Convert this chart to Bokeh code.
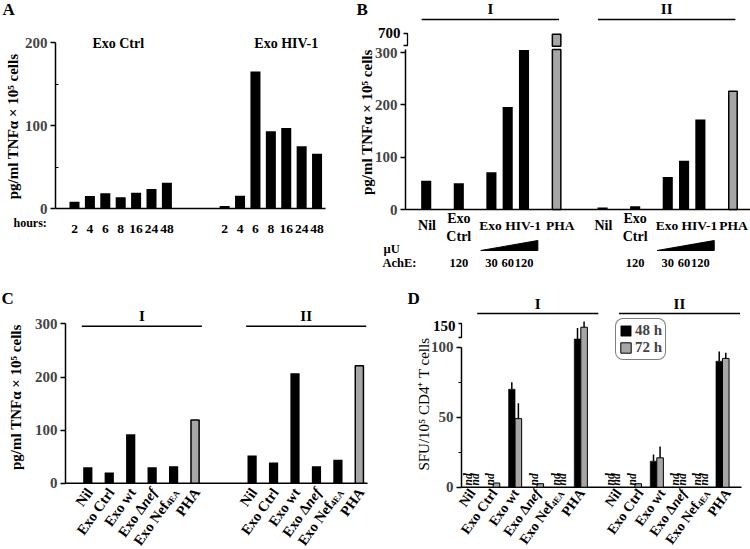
import math
from bokeh.plotting import figure
from bokeh.models import (LinearAxis, FixedTicker, Range1d, Legend, LegendItem)
from bokeh.layouts import column, row
from bokeh.core.properties import value
from bokeh.embed import file_html
from bokeh.resources import INLINE

NAN = float("nan")

# ---------------- data ----------------
# Panel A : TNFa release over time
A_hours = ["2", "4", "6", "8", "16", "24", "48"]
A_exo_ctrl = [8, 15, 18.5, 13.5, 19, 23.5, 31]
A_exo_hiv = [3, 15.5, 165, 93, 97, 75, 66]
A_groups = ["Exo Ctrl", "Exo HIV-1"]
A_yticks = [0, 100, 200]
A_yminor = [50, 150]

# Panel B : dose response (AchE µU)
B_groups = ["I", "II"]
B_conditions = ["Nil", "Exo Ctrl", "Exo HIV-1", "Exo HIV-1", "Exo HIV-1", "PHA"]
B_ache = ["", "120", "30", "60", "120", ""]
B_I = [55, 50, 71, 196, 305, 690]
B_II = [4, 6, 62, 93, 172, 226]
B_yticks = [0, 100, 200, 300]
B_break_tick = 700

# Panel C
C_groups = ["I", "II"]
C_conditions = ["Nil", "Exo Ctrl", "Exo wt", "Exo Δnef", "Exo Nef4EA", "PHA"]
C_I = [30, 20, 92, 30, 32, 119]
C_II = [52, 39, 207, 32, 44, 221]
C_yticks = [0, 100, 200, 300]

# Panel D : SFU / 10^5 CD4+ T cells (nd = not detected)
D_groups = ["I", "II"]
D_conditions = ["Nil", "Exo Ctrl", "Exo wt", "Exo Δnef", "Exo Nef4EA", "PHA"]
D_series = ["48 h", "72 h"]
D_I_48 = [NAN, NAN, 70, NAN, NAN, 119]
D_I_48_err = [0, 0, 5, 0, 0, 25]
D_I_72 = [NAN, 3, 49, 2.5, NAN, 146]
D_I_72_err = [0, 0, 11, 0, 0, 13]
D_II_48 = [NAN, NAN, 18.6, NAN, NAN, 90]
D_II_48_err = [0, 0, 4.8, 0, 0, 7]
D_II_72 = [NAN, 2.5, 21, NAN, NAN, 92]
D_II_72_err = [0, 0, 8, 0, 0, 4]
D_yticks = [0, 50, 100]
D_yminor = [25, 75]
D_break_tick = 150

# ---------------- layout helpers ----------------
FONT = "Liberation Serif"
SX = 1.0
SY = 1.0
GRAY = "#a6a6a6"


class Geo:
    def __init__(self, box, frame, xcal, ycal):
        self.box, self.frame, self.xcal, self.ycal = box, frame, xcal, ycal

    def X(self, rx):
        return (rx - self.xcal[0]) / self.xcal[1]

    def Y(self, ry):
        return (self.ycal[0] - ry) / self.ycal[1]

    def dxp(self, px):
        return px / (self.xcal[1] * SX)

    def dyp(self, px):
        return px / (self.ycal[1] * SY)

    def make(self):
        x0, y0, x1, y1 = self.box
        W = round(x1 * SX) - round(x0 * SX)
        H = round(y1 * SY) - round(y0 * SY)
        p = figure(width=W, height=H, output_backend="svg", toolbar_location=None,
                   x_range=Range1d(self.X(x0), self.X(x1)),
                   y_range=Range1d(self.Y(y1), self.Y(y0)),
                   x_axis_location=None, y_axis_location=None,
                   min_border_left=0, min_border_right=0,
                   min_border_top=0, min_border_bottom=0,
                   outline_line_color=None, tools="")
        p.grid.visible = False
        p.segment(x0=[self.X(self.frame[0])], y0=[0], x1=[self.X(self.frame[1])], y1=[0],
                  line_color="black", line_width=1.5)
        return p


def yaxis(p, g, bounds, ticks, minor=(), minor_in=True):
    ax = LinearAxis(bounds=bounds, ticker=FixedTicker(ticks=ticks, minor_ticks=list(minor)))
    ax.fixed_location = g.X(g.frame[0])
    ax.axis_line_width = 1.5
    ax.major_tick_line_width = 1.5
    ax.minor_tick_line_width = 1
    ax.major_tick_out = 5
    ax.major_tick_in = 0
    if minor_in:
        ax.minor_tick_out = 0
        ax.minor_tick_in = 3
    else:
        ax.minor_tick_out = 3
        ax.minor_tick_in = 0
    ax.major_label_text_font = FONT
    ax.major_label_text_font_style = "bold"
    ax.major_label_text_font_size = "15px"
    ax.major_label_standoff = 3
    p.add_layout(ax, "left")
    return ax


def txt(p, xs, ys, texts, size="14px", align="center", baseline="middle",
        angle=0, style="bold"):
    p.text(x=xs, y=ys, text=texts, text_font=value(FONT), text_font_size=size,
           text_font_style=style, text_align=align, text_baseline=baseline,
           angle=angle, text_color="black")


def bracket(p, g, rx0, rx1, ry0, ry1):
    p.multi_line(xs=[[g.X(rx0), g.X(rx1), g.X(rx1), g.X(rx0)]],
                 ys=[[g.Y(ry0), g.Y(ry0), g.Y(ry1), g.Y(ry1)]],
                 line_color="black", line_width=1.3)


CW = {"n": .556, "e": .444, "f": .333, "4": .5, "E": .667, "A": .722}


def segs_for(label):
    if label.endswith("Δnef"):
        return [(label[:-3], "bold", 1.0, 0), ("nef", "bold italic", 1.0, 0)]
    if label.endswith("4EA"):
        return [(label[:-3], "bold", 1.0, 0), ("4EA", "bold", 0.62, 3)]
    return [(label, "bold", 1.0, 0)]


def rot_labels(p, g, xs, ry, labels, size, theta):
    c, s = math.cos(theta), math.sin(theta)
    for x, name in zip(xs, labels):
        back = 0.0
        for text, style, scale, sub in reversed(segs_for(name)):
            fs = size * scale
            dx_px = -back * c + sub * s
            dy_px = -back * s - sub * c
            p.text(x=[x + g.dxp(dx_px)], y=[g.Y(ry) + g.dyp(dy_px)], text=[text],
                   angle=theta, text_align="right", text_baseline="middle",
                   text_font=value(FONT), text_font_style=style,
                   text_font_size=f"{fs:.1f}px", text_color="black")
            back += sum(CW.get(ch, .5) for ch in text) * fs


def header(p, g, x0, x1, ry_line, ry_text, name, xt=None):
    p.segment(x0=[x0], y0=[g.Y(ry_line)], x1=[x1], y1=[g.Y(ry_line)],
              line_color="black", line_width=1.5)
    txt(p, [xt if xt is not None else (x0 + x1) / 2], [g.Y(ry_text)], [name], size="15px")


# ---------------- Panel A ----------------
gA = Geo((0, 0, 352, 270), (55, 325), (74, 15.4), (208, 0.83))
pA = gA.make()
yaxis(pA, gA, (0, 200), A_yticks, A_yminor, minor_in=True)
HIV_OFF = 9.75
xa_ctrl = [float(i) for i in range(len(A_hours))]
xa_hiv = [i + HIV_OFF for i in range(len(A_hours))]
pA.vbar(x=xa_ctrl + xa_hiv, top=A_exo_ctrl + A_exo_hiv, width=0.65,
        fill_color="black", line_color=None)
txt(pA, xa_ctrl + xa_hiv, [gA.Y(228)] * (2 * len(A_hours)), A_hours * 2, size="13.5px")
mc = sum(xa_ctrl) / len(xa_ctrl)
mh = sum(xa_hiv) / len(xa_hiv)
txt(pA, [mc - 0.16, mh + 1.0], [gA.Y(43)] * 2, A_groups, size="14px")
txt(pA, [gA.X(2)], [gA.Y(8.5)], ["A"], size="17px", align="left")
txt(pA, [gA.X(13)], [gA.Y(222)], ["hours:"], size="12px", align="left")
txt(pA, [gA.X(12.5)], [gA.Y(126)], ["pg/ml TNFα × 10⁵ cells"], size="15px", angle=math.pi / 2)

# ---------------- Panel B ----------------
gB = Geo((352, 0, 750, 270), (405, 750), (425.7, 16.3), (209, 0.523))
pB = gB.make()
yaxis(pB, gB, (0, 305), B_yticks)
SLOTS = [0, 2, 4, 5, 6, 8]
B_OFF = 10.82
B_LO, B_HI = 306, 312


def b_disp(v):
    return v if v <= B_LO else 338 + (v - B_break_tick) * 0.3


for gi, (gname, vals) in enumerate(zip(B_groups, [B_I, B_II])):
    xs = [s + gi * B_OFF for s in SLOTS]
    black_x = [x for x, c in zip(xs, B_conditions) if c != "PHA"]
    black_v = [v for v, c in zip(vals, B_conditions) if c != "PHA"]
    pB.vbar(x=black_x, top=black_v, width=0.62, fill_color="black", line_color=None)
    gx = [x for x, c in zip(xs, B_conditions) if c == "PHA"]
    gv = [v for v, c in zip(vals, B_conditions) if c == "PHA"]
    pB.vbar(x=gx, top=[min(v, B_LO) for v in gv], width=0.52, fill_color=GRAY,
            line_color="black", line_width=1.5)
    ux = [x for x, v in zip(gx, gv) if v > B_LO]
    uv = [b_disp(v) for v in gv if v > B_LO]
    if ux:
        pB.vbar(x=ux, bottom=B_HI, top=uv, width=0.52, fill_color=GRAY,
                line_color="black", line_width=1.5)
    done = []
    for c in B_conditions:
        if c in done:
            continue
        done.append(c)
        cx = [x for x, cc in zip(xs, B_conditions) if cc == c]
        m = sum(cx) / len(cx)
        if c == "Exo Ctrl":
            txt(pB, [m], [gB.Y(218)], ["Exo"], size="14px")
            txt(pB, [m], [gB.Y(236)], ["Ctrl"], size="14px")
        elif c == "Exo HIV-1":
            txt(pB, [m + 0.15], [gB.Y(225)], [c], size="13.5px")
            pB.patch(x=[cx[0] - 0.65, cx[-1] + 0.85, cx[-1] + 0.85],
                     y=[gB.Y(250), gB.Y(250), gB.Y(240)], fill_color="black",
                     line_color="black")
        elif c == "PHA":
            txt(pB, [m + 0.23 - 0.2 * gi], [gB.Y(225)], [c], size="13.5px")
        else:
            txt(pB, [m + 0.05], [gB.Y(225)], [c], size="14px")
    txt(pB, xs, [gB.Y(262)] * len(xs), B_ache, size="12.5px")
    header(pB, gB, xs[0] - 0.28, xs[-1] + 0.15, 19, 8, gname)

txt(pB, [gB.X(400)], [b_disp(B_break_tick)], [str(B_break_tick)], size="15px", align="right")
bracket(pB, gB, 403, 407, 33, 45)
txt(pB, [gB.X(383)], [gB.Y(248)], ["µU"], size="12.5px", align="left")
txt(pB, [gB.X(382)], [gB.Y(262)], ["AchE:"], size="12.5px", align="left")
txt(pB, [gB.X(356)], [gB.Y(8.5)], ["B"], size="17px", align="left")
txt(pB, [gB.X(366.5)], [gB.Y(121.7)], ["pg/ml TNFα × 10⁵ cells"], size="15px", angle=math.pi / 2)

# ---------------- Panel C ----------------
THETA = 0.95
gC = Geo((0, 270, 395, 549), (65, 367), (87.3, 21.45), (482.7, 0.531))
pC = gC.make()
yaxis(pC, gC, (0, 300), C_yticks)
C_OFF = 7.66
for gi, (gname, vals) in enumerate(zip(C_groups, [C_I, C_II])):
    xs = [i + gi * C_OFF for i in range(len(C_conditions))]
    bx = [x for x, c in zip(xs, C_conditions) if c != "PHA"]
    bv = [v for v, c in zip(vals, C_conditions) if c != "PHA"]
    pC.vbar(x=bx, top=bv, width=0.43, fill_color="black", line_color=None)
    gx = [x for x, c in zip(xs, C_conditions) if c == "PHA"]
    gv = [v for v, c in zip(vals, C_conditions) if c == "PHA"]
    pC.vbar(x=gx, top=gv, width=0.38, fill_color=GRAY, line_color="black", line_width=1.5)
    rot_labels(pC, gC, [x + 0.08 for x in xs], 489, C_conditions, 14.5, THETA)
    header(pC, gC, xs[0] - 0.28, xs[-1] + 0.32, 325.7, 315, gname)
txt(pC, [gC.X(1)], [gC.Y(297.5)], ["C"], size="17px", align="left")
txt(pC, [gC.X(15)], [gC.Y(396.7)], ["pg/ml TNFα × 10⁵ cells"], size="15px", angle=math.pi / 2)

# ---------------- Panel D ----------------
gD = Geo((395, 270, 750, 549), (461, 741), (470.8, 21.9), (486.7, 1.40))
pD = gD.make()
yaxis(pD, gD, (0, 100), D_yticks, D_yminor, minor_in=False)
D_OFF = 6.47
BW = 0.30


def d_disp(v):
    return v if v <= 100 else 100 + (v - 100) * 0.31


x48, t48, x72, t72, nd_x = [], [], [], [], []
ex, e0, e1 = [], [], []
for gi, (gname, v48, e48, v72, e72) in enumerate(zip(
        D_groups, [D_I_48, D_II_48], [D_I_48_err, D_II_48_err],
        [D_I_72, D_II_72], [D_I_72_err, D_II_72_err])):
    xs = [i + gi * D_OFF for i in range(len(D_conditions))]
    for x, a, ea, b, eb in zip(xs, v48, e48, v72, e72):
        for off, v, e, X_, T_ in ((-BW / 2, a, ea, x48, t48), (BW / 2, b, eb, x72, t72)):
            if math.isnan(v):
                nd_x.append(x + off)
            else:
                X_.append(x + off)
                T_.append(d_disp(v))
                if e > 0:
                    ex.append(x + off)
                    e0.append(d_disp(v))
                    e1.append(d_disp(v + e))
    rot_labels(pD, gD, [x + 0.05 + 0.2 * gi for x in xs], 490, D_conditions, 14, THETA)
    header(pD, gD, xs[0] + 0.27, xs[-1] + 0.8, 313, 303, gname)

r48 = pD.vbar(x=x48, top=t48, width=BW, fill_color="black", line_color="black", line_width=0.5)
r72 = pD.vbar(x=x72, top=t72, width=BW, fill_color=GRAY, line_color="black", line_width=1)
pD.segment(x0=ex, y0=e0, x1=ex, y1=e1, line_color="black", line_width=1.5)
txt(pD, nd_x, [gD.Y(485)] * len(nd_x), ["nd"] * len(nd_x), size="11.5px",
    align="left", angle=math.pi / 2, style="bold italic")

txt(pD, [gD.X(455)], [d_disp(D_break_tick)], [str(D_break_tick)], size="15px", align="right")
bracket(pD, gD, 458, 461, 323, 337)
txt(pD, [gD.X(407)], [gD.Y(297.5)], ["D"], size="17px", align="left")
txt(pD, [gD.X(423.5)], [gD.Y(403.5)], ["SFU/10⁵ CD4⁺ T cells"], size="15px",
    angle=math.pi / 2, style="normal")

leg = Legend(items=[LegendItem(label=D_series[0], renderers=[r48]),
                    LegendItem(label=D_series[1], renderers=[r72])],
             location=(615 - 395, 549 - 360))
leg.label_text_font = FONT
leg.label_text_font_style = "bold"
leg.label_text_font_size = "15px"
leg.label_height = 14
leg.glyph_height = 13
leg.glyph_width = 13
leg.label_standoff = 3
leg.spacing = 0
leg.padding = 3
leg.margin = 0
leg.border_line_color = "black"
leg.border_line_width = 1.5
try:
    leg.border_radius = 8
except Exception:
    pass
pD.add_layout(leg)

layout = column(row(pA, pB), row(pC, pD))
open("out.html", "w").write(file_html(layout, INLINE))
